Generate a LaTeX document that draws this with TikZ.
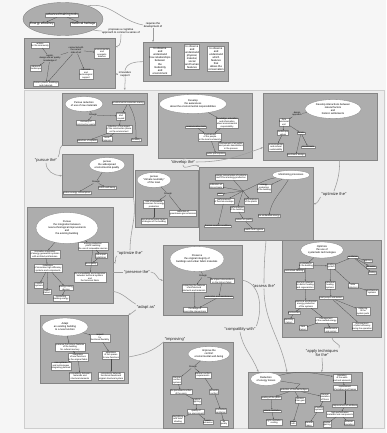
\documentclass[tikz,border=0pt]{standalone}
\usepackage{fontspec}
\setmainfont{Liberation Sans}
\usetikzlibrary{shapes.geometric,arrows.meta}
\definecolor{bgc}{HTML}{F6F6F6}
\definecolor{panc}{HTML}{EDEDED}
\definecolor{panbc}{HTML}{CDCDCD}
\definecolor{boxc}{HTML}{ADADAD}
\definecolor{boxbc}{HTML}{858585}
\definecolor{lnc}{HTML}{4A4A4A}
\definecolor{cvc}{HTML}{9C9C9C}
\newcommand\fsA{\fontsize{2.2}{2.5}\selectfont}
\newcommand\fsS{\fontsize{2.7}{3.1}\selectfont}
\newcommand\fsB{\fontsize{3.1}{3.5}\selectfont}
\newcommand\fsT{\fontsize{2.6}{3.0}\selectfont}
\newcommand\fsC{\fontsize{4.1}{4.6}\selectfont}
\begin{document}
\begin{tikzpicture}[x=1pt,y=-1pt,
  bigpanel/.style={draw=panbc, fill=panc, line width=0.7pt, anchor=north west, inner sep=0pt},
  panel/.style={draw=boxbc, line width=0.4pt, fill=boxc, anchor=north west, inner sep=0pt},
  ib/.style={draw=boxbc, line width=0.25pt, fill=white, font=\fsA, align=center, inner sep=0.5pt},
  ibB/.style={draw=boxbc, line width=0.3pt, fill=white, font=\fsB, align=center, inner sep=0.6pt},
  ibO/.style={draw=boxbc, line width=0.3pt, fill=white, font=\fsS, align=center, inner sep=0.7pt},
  tl/.style={ellipse, draw=boxbc, line width=0.3pt, fill=white, font=\fsT, align=center, inner xsep=-2pt, inner ysep=0pt},
  lab/.style={font=\fsA, inner sep=0.3pt, align=center},
  sml/.style={font=\fsS, inner sep=0.4pt, align=center},
  big/.style={font=\fsC, inner sep=0.8pt, align=center, text=black!85},
  ar/.style={draw=lnc, line width=0.25pt, -{Stealth[length=1.3pt,width=1.1pt]}},
  pl/.style={draw=lnc, line width=0.25pt},
  cv/.style={draw=cvc, line width=0.55pt},
  cva/.style={draw=cvc, line width=0.55pt, -{Stealth[length=2.2pt,width=1.8pt]}},
]
\useasboundingbox (0,0) rectangle (386,433);
\fill[bgc] (0,0) rectangle (386,433);
\node[bigpanel, minimum width=360pt, minimum height=338pt] (P) at (24,90) {};

% ---------- top ----------
\node[ellipse, fill=boxc, draw=boxbc, line width=0.4pt, minimum width=80pt, minimum height=33pt, inner sep=0pt] (T) at (63,19) {};
\node[ibB] (T1) at (62,15) {advanced training tools};
\node[ibB] (T2) at (42,24) {Energy efficiency};
\node[ibB] (T3) at (83,24) {Historical heritage};
\draw[ar] (T1) -- (T2);
\draw[ar] (T1) -- (T3);

\node[panel, minimum width=91pt, minimum height=50pt] (p0) at (24,38) {};
\node[ib] (a1) at (40,45) {actions\\for the community};
\node[lab] (a2) at (76,50) {connected with\\the current\\state of art};
\node[ib] (a3) at (102,53) {environmental\\and\\energetic\\balance};
\node[lab] (a4) at (50,58) {logistic,\\design and air quality\\knowledge of};
\node[ib] (a5) at (36,68) {elements\\landscape};
\node[ib] (a6) at (86,74) {technical\\and\\technological\\support};
\node[ib] (a7) at (46,84) {historic places, buildings\\and materials};
\draw[pl] (a1) -- (a4);
\draw[pl] (a2) -- (a4);
\draw[ar] (a2) -- (a3);
\draw[ar] (a2) -- (a6);
\draw[ar] (a4) -- (a5);
\draw[ar] (a4) -- (a7);
\draw[ar] (a2) -- (a7);

\node[panel, minimum width=85pt, minimum height=39pt] (p00) at (143,42) {};
\node[ibO] (o1) at (160,61) {to observe\\and\\understand\\how relationships\\between\\the\\modernity\\and\\environment};
\node[ibO] (o2) at (192,57) {to observe\\and\\understand\\physical,\\material,\\social\\and human\\features};
\node[ibO] (o3) at (216,59) {to observe\\and\\understand\\which\\features\\that\\allows the\\conservation};

\node[sml] (Lprop) at (121,31) {proposes a cognitive\\approach to connect a series of};
\node[sml] (Lreq) at (153,25) {requires the\\development of};
\node[sml] (Linn) at (125,74) {innovative\\support};
\draw[cv] (T.-20) to[out=-10,in=180] (Lprop.west);
\draw[cva] (Lprop.south) to[out=-90,in=0] (p0.20);
\draw[cv] (T.28) to[out=10,in=170] (Lreq.west);
\draw[cva] (Lreq.south) -- (Lreq.south |- p00.north);
\draw[cv] (p00.west) to[out=180,in=80] (Linn.north);
\draw[cva] (Linn.west) -- (Linn.west -| p0.east);
\draw[cva] (Linn.south) to[out=-80,in=100] (Linn.south |- P.north);

% ---------- panel 1 ----------
\node[panel, minimum width=85pt, minimum height=52pt] (p1) at (62,93) {};
\node[tl, minimum width=38pt, minimum height=15pt] (t1) at (84,104) {Pursue reduction\\of use of raw materials};
\node[ib] (b1) at (128,103) {environmental resources saving};
\node[lab] (b0) at (93,115) {through};
\node[ib] (b2) at (121,116) {recycled\\and\\reused};
\node[ib] (b3) at (86,123) {recovery of\\construction waste};
\node[ib] (b4) at (119,129) {reduction of the impact\\of the construction phase\\on the environment};
\node[ib] (b5) at (87,141) {reduction of impacts};
\node[ib] (b6) at (107,139) {local\\materials};
\node[ib] (b7) at (136,140) {durability};
\draw[pl] (t1) -- (b0);
\draw[ar] (b0) -- (b3);
\draw[ar] (b0) -- (b2);
\draw[ar] (b1) -- (b2);
\draw[ar] (b2) -- (b4);
\draw[ar] (b4) -- (b5);
\draw[ar] (b4) -- (b6);
\draw[ar] (b1) to[out=-60,in=90] (b7);

% ---------- panel 2 ----------
\node[panel, minimum width=94pt, minimum height=65pt] (p2) at (158,93) {};
\node[tl, minimum width=67pt, minimum height=19pt] (t2) at (193,104) {Develop\\the awareness\\about the environmental responsibilities};
\node[ib] (c1) at (196,127) {communication tools};
\node[ib] (c2) at (227,123) {knowledge, education\\and information\\about environmental\\responsibility};
\node[ib] (c3) at (210,137) {involvement\\of the people\\in the local community};
\node[ib] (c4) at (231,146) {involvement of all public\\and private stakeholders\\in the process};
\node[ib] (c5) at (216,154) {public participation};
\draw[ar] (t2) -- (c2);
\draw[ar] (c1) -- (c3);
\draw[ar] (c2) -- (c3);
\draw[ar] (c3) -- (c4);
\draw[ar] (c3) -- (c5);

% ---------- panel 3 ----------
\node[panel, minimum width=114pt, minimum height=67pt] (p3) at (263,93) {};
\node[tl, minimum width=56pt, minimum height=19pt] (t3) at (333,109) {Develop interactions between\\natural factors\\and\\historic settlements};
\node[lab] (d0) at (297,114) {design\\approach};
\node[ib] (d1) at (284,122) {form\\functional\\unit};
\node[ib] (d2) at (283,133) {landscape\\values};
\node[ib] (d3) at (301,133) {climate};
\node[ib] (d4) at (276,147) {environmental\\and cultural\\sustainability};
\node[ib] (d5) at (308,147) {microclimate};
\node[ib] (d6) at (296,155) {bioclimatic design};
\draw[pl] (t3) -- (d0);
\draw[ar] (d0) -- (d1);
\draw[ar] (d1) -- (d2);
\draw[ar] (d1) -- (d3);
\draw[ar] (d2) -- (d4);
\draw[ar] (d3) -- (d5);
\draw[ar] (d3) -- (d6);

% ---------- panel 4 ----------
\node[panel, minimum width=71pt, minimum height=43pt] (p4) at (62,154) {};
\node[tl, minimum width=36pt, minimum height=15pt] (t4) at (107,165) {pursue\\the widespread\\environmental quality};
\node[lab] (e0) at (96,182) {through};
\node[ib] (e1) at (107,188) {indoor well-being};
\node[ib] (e2) at (77,193) {indoor energy consumption};
\draw[pl] (t4) -- (e0);
\draw[ar] (e0) -- (e1);
\draw[ar] (e0) -- (e2);

% ---------- panel 5 ----------
\node[panel, minimum width=63pt, minimum height=57pt] (p5) at (135,170) {};
\node[tl, minimum width=34pt, minimum height=15pt] (t5) at (154,180) {pursue\\“climate neutrality”\\of the town};
\node[lab] (f0) at (168,194) {through};
\node[ib] (f1) at (154,204) {use of renewable\\resources for energy\\production};
\node[ib] (f2) at (183,213) {reduction of\\greenhouse gas emissions};
\node[ib] (f3) at (154,221) {low environmental impact\\strategies of the building};
\draw[pl] (t5) -- (f0);
\draw[ar] (f0) -- (f1);
\draw[ar] (f0) -- (f2);
\draw[ar] (f1) -- (f3);

% ---------- panel 6 ----------
\node[panel, minimum width=86pt, minimum height=96pt] (p6) at (27,207) {};
\node[tl, minimum width=62pt, minimum height=31pt] (t6) at (67,228) {Pursue\\the integration between\\new technological improvements\\and\\the existing building};
\node[ib] (g1) at (93,246) {energy production\\plants realizing\\the use of renewable sources};
\node[ib] (g2) at (45,254) {innovative integration\\of energy generation systems\\with architectural features};
\node[ib] (g3) at (101,256) {low impact\\installation};
\node[ib] (g4) at (48,268) {installation\\of innovative high efficiency\\systems and components};
\node[ib] (g5) at (91,264) {reversibility};
\node[ib] (g6) at (90,277) {the compatibility and integration\\between technical systems\\and\\the historical fabric};
\node[ib] (g7) at (39,285) {control\\systems};
\node[ib] (g8) at (47,292) {smart\\meters};
\node[ib] (g9) at (66,288) {energy saving\\devices};
\node[ib] (g10) at (61,298) {monitoring\\building energy};
\draw[ar] (t6) -- (g1);
\draw[ar] (t6) -- (g2);
\draw[ar] (g1) -- (g3);
\draw[ar] (g1) -- (g6);
\draw[ar] (g2) -- (g4);
\draw[ar] (g3) -- (g5);
\draw[ar] (g4) -- (g7);
\draw[ar] (g4) -- (g8);
\draw[ar] (g4) -- (g9);
\draw[ar] (g9) -- (g10);

% ---------- panel 7 ----------
\node[panel, minimum width=114pt, minimum height=73pt] (p7) at (199,167) {};
\node[tl, minimum width=38pt, minimum height=9pt] (t7) at (291,175) {Monitoring processes};
\node[ib] (h1) at (231,177) {energy consumption of systems\\and of local energy production};
\node[ib] (h2) at (216,186) {indicators of\\microclimate};
\node[ib] (h3) at (264,188) {energy\\production\\of the building};
\node[ib] (h4) at (220,194) {users};
\node[ib] (h5) at (224,201) {performances\\of thermal envelope};
\node[ib] (h6) at (251,201) {performances\\of the plants};
\node[ib] (h7) at (237,209) {performances\\of the building};
\node[ib] (h8) at (244,220) {indoor air quality};
\node[ib] (h9) at (269,216) {the embedded energy};
\node[ib] (h10) at (218,226) {thermal comfort conditions};
\node[ib] (h11) at (254,230) {health and hygiene};
\coordinate (hub7) at (243,191);
\draw[pl] (t7) to[out=190,in=20] (hub7);
\draw[ar] (t7) -- (h3);
\draw[pl] (h1) -- (hub7);
\draw[ar] (hub7) -- (h2);
\draw[ar] (hub7) -- (h4);
\draw[ar] (hub7) -- (h5);
\draw[ar] (hub7) -- (h6);
\draw[ar] (hub7) -- (h7);
\draw[ar] (h7) -- (h8);
\draw[ar] (t7) to[out=240,in=80] (h9);
\draw[ar] (h5) -- (h10);
\draw[ar] (h8) -- (h11);

% ---------- panel 8 ----------
\node[panel, minimum width=99pt, minimum height=97pt] (p8) at (282,240) {};
\node[tl, minimum width=43pt, minimum height=16pt] (t8) at (322,250) {Optimize\\the use of\\systematic technologies};
\node[ib] (i1) at (306,265) {installations\\in the building};
\node[ib] (i2) at (294,271) {centralized heating};
\node[ib] (i3) at (331,266) {heating\\system};
\node[ib] (i4) at (353,257) {ventilation};
\node[ib] (i5a) at (368,261) {lighting};
\node[ib] (i5b) at (371,267) {hot water};
\node[ib] (i5c) at (372,273) {cooling};
\node[ib] (i6) at (305,285) {thermal networks\\for district heating\\and cogeneration};
\node[ib] (i7) at (330,285) {individual\\heating\\systems};
\node[ib] (i8) at (353,286) {solar\\collectors};
\node[ib] (i9) at (372,292) {geothermal\\systems};
\node[ib] (i10) at (331,298) {heat pumps and boilers};
\node[ib] (i11) at (306,304) {electrical and thermal\\energy production\\of the systems};
\node[ib] (i12) at (363,311) {replacing\\of the\\system parts};
\node[ib] (i13) at (294,313) {photovoltaic};
\node[ib] (i14) at (289,321) {electricity\\meters};
\node[ib] (i15) at (326,320) {management\\of the needed energy};
\node[ib] (i16) at (303,328) {heat\\meters};
\node[ib] (i17) at (331,330) {maintenance\\and control};
\node[ib] (i18) at (362,326) {improvement\\of plant efficiency\\during the operation};
\draw[ar] (t8) -- (i1);
\draw[ar] (i1) -- (i2);
\draw[ar] (i1) -- (i3);
\draw[ar] (i3) -- (i4);
\draw[ar] (i4) -- (i5a);
\draw[ar] (i4) -- (i5b);
\draw[ar] (i4) -- (i5c);
\draw[ar] (i1) -- (i6);
\draw[ar] (i3) -- (i7);
\draw[ar] (i3) -- (i8);
\draw[ar] (i8) -- (i9);
\draw[ar] (i7) -- (i10);
\draw[ar] (i6) -- (i11);
\draw[ar] (i11) -- (i13);
\draw[ar] (i13) -- (i14);
\draw[ar] (i11) -- (i15);
\draw[ar] (i15) -- (i16);
\draw[ar] (i15) -- (i17);
\draw[ar] (i10) -- (i18);
\draw[ar] (i10) -- (i12);

% ---------- panel 9 ----------
\node[panel, minimum width=79pt, minimum height=70pt] (p9) at (163,245) {};
\node[tl, minimum width=54pt, minimum height=25pt] (t9) at (197,259) {Preserve\\the original integrity of\\buildings and urban fabric materials};
\node[lab] (j0) at (203,276) {through};
\node[ib] (j1) at (222,281) {low impact interventions\\on the historic fabric};
\node[ib] (j2) at (194,288) {respecting the features\\of architectural\\elements and materials};
\node[ib] (j3) at (219,297) {restoration and maintenance};
\node[ib] (j4) at (195,310) {the design of\\reversible interventions};
\draw[pl] (t9) -- (j0);
\draw[ar] (j0) -- (j1);
\draw[ar] (j0) -- (j2);
\draw[ar] (j1) -- (j3);
\draw[ar] (j2) -- (j4);
\draw[ar] (j3) -- (j4);

% ---------- panel 10 ----------
\node[panel, minimum width=88pt, minimum height=68pt] (p10) at (40,315) {};
\node[tl, minimum width=46pt, minimum height=18pt] (t10) at (65,327) {Adapt\\an existing building\\to a new function};
\node[ib] (k1) at (100,338) {respect\\for\\functional flexibility};
\node[ib] (k2) at (70,347) {preserve the historic features\\of the building\\for cultural memory};
\node[ib] (k3) at (111,355) {adaptation\\of the spaces\\to new functions};
\node[ib] (k4) at (78,357) {integration\\of new functions\\to the original fabric};
\node[ib] (k5) at (61,366) {new systems\\and technologies\\integrating planned};
\node[ib] (k6) at (80,376) {compatibility between\\materials and\\structural elements};
\node[ib] (k7) at (111,376) {consistency between\\functional needs and\\original structural system};
\draw[ar] (t10) -- (k1);
\draw[ar] (t10) -- (k2);
\draw[ar] (k1) -- (k3);
\draw[ar] (k2) -- (k4);
\draw[ar] (k4) -- (k5);
\draw[ar] (k4) -- (k6);
\draw[ar] (k3) -- (k7);

% ---------- panel 11 ----------
\node[panel, minimum width=70pt, minimum height=86pt] (p11) at (163,342) {};
\node[tl, minimum width=42pt, minimum height=15pt] (t11) at (209,354) {Improve the\\comfort\\environmental well-being};
\node[lab] (m0) at (193,367) {through};
\node[ib] (m1) at (203,375) {thermal comfort\\requirements};
\node[ib] (m2) at (177,380) {thermal\\comfort\\systems};
\node[ib] (m3) at (181,392) {the perceived comfort\\of the users};
\node[ib] (m5) at (214,392) {acoustic\\comfort};
\node[ib] (m6) at (197,401) {natural\\lighting};
\node[ib] (m7) at (196,412) {quality of\\the environment};
\node[ib] (m8) at (221,411) {controlled\\ventilation};
\node[ib] (m9) at (178,419) {daylighting\\and solar\\shading};
\node[ib] (m10) at (208,422) {users\\behaviour};
\node[ib] (m11) at (224,423) {air\\quality};
\draw[pl] (t11) -- (m0);
\draw[ar] (m0) -- (m1);
\draw[ar] (m0) -- (m2);
\draw[ar] (m1) -- (m5);
\draw[ar] (m2) -- (m3);
\draw[ar] (m3) -- (m6);
\draw[ar] (m6) -- (m7);
\draw[ar] (m5) -- (m8);
\draw[ar] (m7) -- (m9);
\draw[ar] (m7) -- (m10);
\draw[ar] (m8) -- (m11);

% ---------- panel 12 ----------
\node[panel, minimum width=114pt, minimum height=56pt] (p12) at (248,372) {};
\node[tl, minimum width=31pt, minimum height=13pt] (t12) at (266,379) {Reduction\\of energy losses};
\node[ib] (n1) at (342,378) {insulation\\of the walls\\and roof elements};
\node[ib] (n2) at (345,388) {replacement\\of windows and frames};
\node[ib] (n3) at (294,390) {reduction of thermal bridges};
\node[ib] (n4) at (325,397) {thermal\\insulation\\of floors};
\node[ib] (n5) at (271,398) {sealing of the joints};
\node[ib] (n6) at (300,400) {passive\\solar gain};
\node[ib] (n8) at (319,409) {shading\\systems};
\node[ib] (n9) at (345,406) {improvement of windows};
\node[ib] (n10) at (272,411) {natural ventilation};
\node[ib] (n11) at (340,414) {high performance\\materials and components};
\node[ib] (n12) at (274,422) {night ventilation\\cooling};
\node[ib] (n13) at (293,423) {green\\roofs};
\node[ib] (n14) at (309,424) {thermal\\mass};
\node[ib] (n15) at (327,424) {double\\glazing};
\node[ib] (n16) at (349,423) {external\\insulation};
\coordinate (hub12) at (300,384);
\draw[pl] (t12) -- (hub12);
\draw[ar] (t12) to[out=15,in=170] (n1);
\draw[ar] (n1) -- (n2);
\draw[ar] (hub12) -- (n3);
\draw[ar] (n3) -- (n4);
\draw[ar] (n3) -- (n5);
\draw[ar] (n3) -- (n6);
\draw[ar] (n4) -- (n8);
\draw[ar] (n2) -- (n9);
\draw[ar] (n5) -- (n10);
\draw[ar] (n9) -- (n11);
\draw[ar] (n10) -- (n12);
\draw[ar] (n6) -- (n13);
\draw[ar] (n8) -- (n14);
\draw[ar] (n11) -- (n15);
\draw[ar] (n11) -- (n16);

% ---------- main connectors ----------
\node[big] (Lpur) at (46,160) {“pursue the”};
\node[big] (Ldev) at (183,162) {“develop the”};
\node[big] (Lopt1) at (334,194) {“optimize the”};
\node[big] (Lopt2) at (130,253) {“optimize the”};
\node[big] (Lpre) at (137,272) {“preserve the”};
\node[big] (Lada) at (146,307) {“adapt as”};
\node[big] (Lass) at (264,286) {“assess the”};
\node[big] (Lcom) at (240,329) {“compatibly with”};
\node[big] (Limp) at (175,339) {“improving”};
\node[big] (Lapp) at (322,353) {“apply techniques\\for the”};

\draw[cv] (p1.south west) to[out=225,in=60] (Lpur.north east);
\draw[cva] (Lpur.south) to[out=-90,in=180] (p4.west);
\draw[cv] (p2.-120) -- (Ldev.north);
\draw[cva] (Ldev.east) to[out=0,in=200] (p3.-160);
\draw[cva] (Ldev.south) to[out=-90,in=135] (p7.north west);
\draw[cv] (p3.-60) to[out=-90,in=70] (Lopt1.north);
\draw[cva] (Lopt1.south west) to[out=240,in=0] (p7.east);
\draw[cv] (p4.south east) to[out=-80,in=90] (Lopt2.north);
\draw[cva] (Lopt2.south west) to[out=230,in=10] (p6.-10);
\draw[cv] (Lpre.west) -- (Lpre.west -| p6.east);
\draw[cva] (Lpre.east) to[out=0,in=180] (p9.west);
\draw[cv] (p6.-40) to[out=-10,in=150] (Lada.north west);
\draw[cva] (Lada.south west) to[out=220,in=30] (p10.north east);
\draw[cv] (p7.-75) to[out=-95,in=90] (Lass.north);
\draw[cva] (Lass.south) to[out=-90,in=100] (p12.123);
\draw[cv] (p9.east) to[out=-10,in=70] (Lcom.north east);
\draw[cva] (Lcom.south) to[out=-80,in=110] (p12.149);
\draw[cv] (p10.-10) to[out=10,in=220] (Limp.south west);
\draw[cv] (p8.south) to[out=-90,in=50] (Lapp.north east);
\draw[cva] (Lapp.south) to[out=-90,in=70] (p12.60);
\end{tikzpicture}
\end{document}
